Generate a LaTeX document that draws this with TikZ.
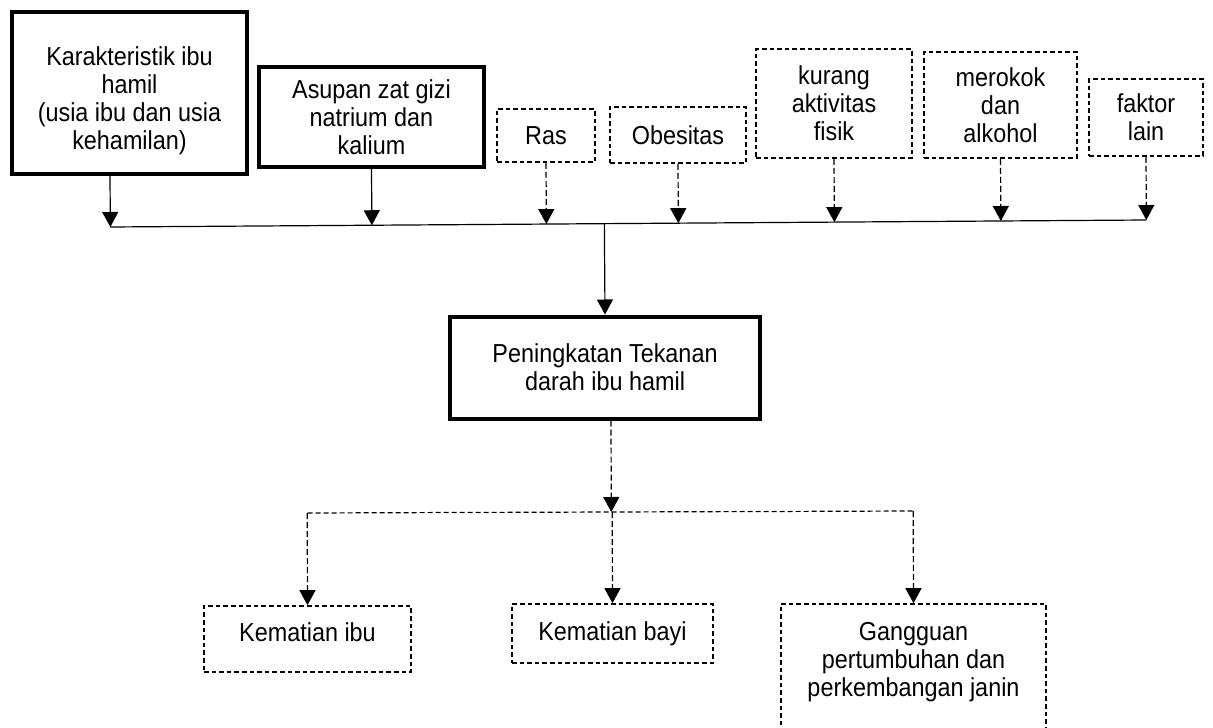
\documentclass[tikz,border=0pt]{standalone}
\usepackage{fontspec}
\setmainfont[FakeStretch=0.9]{Liberation Sans}
\usetikzlibrary{arrows.meta,calc,positioning}
\tikzset{
  mainbox/.style={draw,line width=2pt,align=center,inner sep=2pt},
  sidebox/.style={draw,line width=0.8pt,dash pattern=on 2.3pt off 1.5pt,align=center,inner sep=2pt},
  solidarrow/.style={->,line width=0.6pt},
  dasharrow/.style={->,line width=0.6pt,dash pattern=on 3pt off 1.5pt},
}
\begin{document}
\begin{tikzpicture}[x=0.5pt,y=-0.5pt,>={Triangle[length=7.5pt,width=8pt]},line join=miter,font=\fontsize{13}{14}\selectfont]
\useasboundingbox (0,0) rectangle (1213,727);
% faktor
\node [mainbox,minimum width=117.5pt,minimum height=81pt,text height=59.5pt] at (129.5,93) (kar) {Karakteristik ibu\\hamil\\(usia ibu dan usia\\kehamilan)};
\node [mainbox,minimum width=112.5pt,minimum height=50pt] at (371.5,117) (asu) {Asupan zat gizi\\natrium dan\\kalium};
\node [sidebox,minimum width=49pt,minimum height=26.5pt] at (546,135.5) (ras) {Ras};
\node [sidebox,minimum width=68pt,minimum height=28pt] at (678,135) (obe) {Obesitas};
\node [sidebox,minimum width=78pt,minimum height=54.5pt] at (834,103.5) (kur) {kurang\\aktivitas\\fisik};
\node [sidebox,minimum width=76.5pt,minimum height=53pt] at (1000.5,105) (mer) {merokok\\dan\\alkohol};
\node [sidebox,minimum width=57pt,minimum height=38.5pt] at (1146,117.5) (fak) {faktor\\lain};

% garis gabungan
\coordinate (bl) at (110,227);
\coordinate (br) at (1146,220);
\draw [line width=0.6pt] (bl) -- (br);
\coordinate (karout) at ([xshift=-9.75pt]kar.south);
\draw [solidarrow] (karout) -- ($(bl)!(karout)!(br)$);
\draw [solidarrow] (asu.south) -- ($(bl)!(asu.south)!(br)$);
\foreach \n in {ras,obe,kur,mer,fak}
  \draw [dasharrow] (\n.south) -- ($(bl)!(\n.south)!(br)$);

% tekanan darah
\node [mainbox,minimum width=155pt,minimum height=51pt] at (605,367.5) (pen) {Peningkatan Tekanan\\darah ibu hamil};
\coordinate (jn) at ($(bl)!(pen.north)!(br)$);
\draw [solidarrow] (jn) -- (pen.north);

% akibat
\node [sidebox,minimum width=103.5pt,minimum height=33pt,text depth=7pt] at (307.5,639) (kib) {Kematian ibu};
\node [sidebox,minimum width=100.5pt,minimum height=29.5pt] at (612.5,633.5) (kby) {Kematian bayi};
\node [sidebox,minimum width=132.5pt,minimum height=68pt,text depth=12.5pt] at (913.5,672) (gan) {Gangguan\\pertumbuhan dan\\perkembangan janin};

\coordinate (dl) at (307.5,513);
\coordinate (dr) at (913.5,511);
\draw [line width=0.6pt,dash pattern=on 2.5pt off 1.5pt] (dl) -- (dr);
\coordinate (penout) at ([xshift=3pt]pen.south);
\draw [dasharrow] (penout) -- ($(dl)!(penout)!(dr)$);
\foreach \n in {kib,kby,gan}
  \draw [dasharrow] ($(dl)!(\n.north)!(dr)$) -- (\n.north);
\end{tikzpicture}
\end{document}
